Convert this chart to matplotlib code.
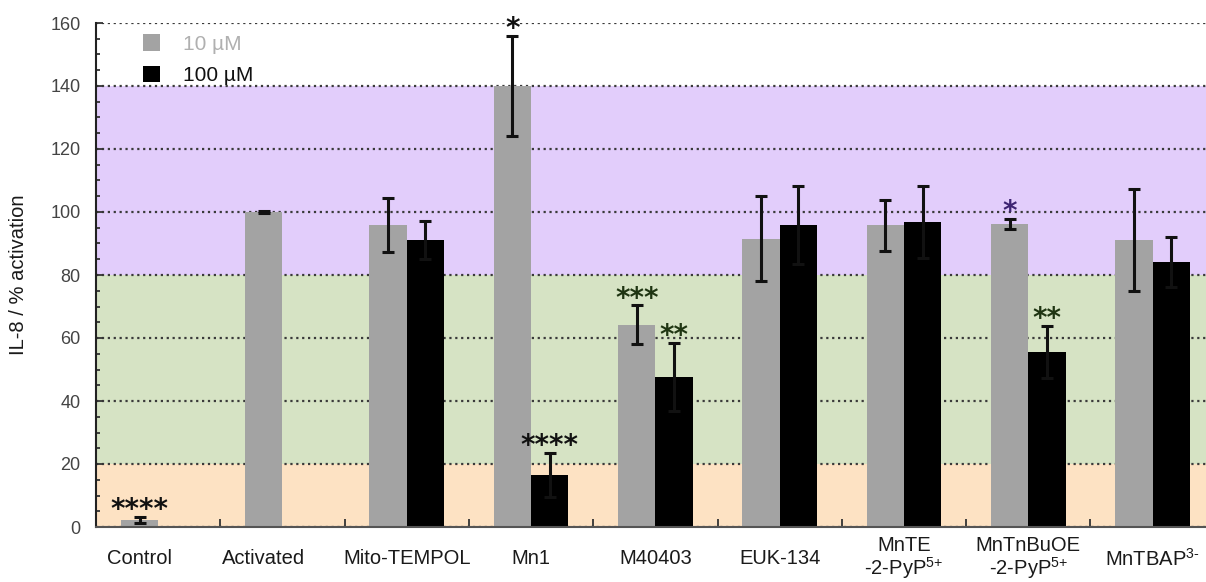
import numpy as np
import matplotlib
matplotlib.use("Agg")
import matplotlib.pyplot as plt
from matplotlib.ticker import MultipleLocator, FixedLocator

plt.rcParams['font.family'] = ['Liberation Sans', 'DejaVu Sans']
plt.rcParams['mathtext.fontset'] = 'custom'
plt.rcParams['mathtext.rm'] = 'Liberation Sans'
plt.rcParams['mathtext.it'] = 'Liberation Sans:italic'
plt.rcParams['mathtext.bf'] = 'Liberation Sans:bold'

# данные
groups = ['Control', 'Activated', 'Mito-TEMPOL', 'Mn1', 'M40403', 'EUK-134',
          'MnTE\n-2-PyP$^{\\text{5+}}$', 'MnTnBuOE\n-2-PyP$^{\\text{5+}}$', 'MnTBAP$^{\\text{3-}}$']
low_vals = [2.3, 100, 96, 140, 64.2, 91.5, 95.8, 96.3, 91]
low_err = [0.9, 0.4, 8.6, 16, 6.2, 13.5, 8.1, 1.6, 16.2]
high_vals = [np.nan, np.nan, 91.1, 16.5, 47.6, 96, 96.9, 55.6, 84.1]
high_err = [np.nan, np.nan, 6, 7, 10.8, 12.4, 11.4, 8.2, 8]

low_stars = ['****', '', '', '*', '***', '', '', '*', '']
low_star_colors = ['#111111', None, None, '#111111', '#1f3512', None, None, '#3d2472', None]
high_stars = ['', '', '', '****', '**', '', '', '**', '']
high_star_colors = [None, None, None, '#111111', '#1f3512', None, None, '#1f3512', None]

# зоны фона
bands = [(0, 20, '#fde2c3'), (20, 80, '#d6e3c4'), (80, 140, '#e2cdfb')]

fig = plt.figure(figsize=(12.06, 5.82), dpi=100)
ax = fig.add_axes([96 / 1206, 55 / 582, 1110 / 1206, 504 / 582])

for lo, hi, c in bands:
    ax.axhspan(lo, hi, color=c, zorder=0, lw=0)

x = np.arange(len(groups))
w = 0.30
x_low = x - w / 2
x_high = x + w / 2

b1 = ax.bar(x_low, low_vals, w, color='#a3a3a3', zorder=2, label='10 µM')
b2 = ax.bar(x_high, high_vals, w, color='black', zorder=2, label='100 µM')
ax.errorbar(x_low, low_vals, yerr=low_err, fmt='none', ecolor='#111111',
            elinewidth=2.2, capsize=4, capthick=2.2, zorder=3)
ax.errorbar(x_high, high_vals, yerr=high_err, fmt='none', ecolor='#111111',
            elinewidth=2.2, capsize=4, capthick=2.2, zorder=3)

# звездочки
def put_stars(xs, vals, errs, stars, colors):
    for xi, v, e, s, c in zip(xs, vals, errs, stars, colors):
        if s:
            ax.annotate(s, (xi, v + e), xytext=(0, -1), textcoords='offset points',
                        ha='center', va='baseline', fontsize=20, fontweight='bold',
                        family='DejaVu Sans', color=c, zorder=4)

put_stars(x_low, low_vals, low_err, low_stars, low_star_colors)
put_stars(x_high, high_vals, high_err, high_stars, high_star_colors)

ax.set_xlim(-0.5, 8.43)
ax.set_ylim(0, 160)
ax.yaxis.set_major_locator(MultipleLocator(20))
ax.yaxis.set_minor_locator(MultipleLocator(5))
ax.yaxis.grid(True, which='major', ls=':', color='#3a3a3a', lw=1.6, zorder=1)
ax.set_axisbelow(True)

# подписи: одиночные столбцы подписаны по центру серого столбца
label_pos = [x_low[i] if np.isnan(high_vals[i]) else x[i] for i in range(len(groups))]
ax.set_xticks(label_pos)
ax.set_xticklabels(groups, fontsize=14.5, color='#1a1a1a', va='center', linespacing=1.0)
ax.xaxis.set_minor_locator(FixedLocator(x[:-1] + 0.5))
ax.tick_params(axis='x', which='major', length=0, pad=23)
ax.tick_params(axis='x', which='minor', direction='in', length=5.5, width=1.3, color='#333333')
ax.tick_params(axis='y', which='major', direction='in', length=5, width=1.3, color='#333333',
               labelsize=13, labelcolor='#444444', pad=11)
ax.tick_params(axis='y', which='minor', direction='in', length=3, width=1.3, color='#333333')

for s in ['top', 'right']:
    ax.spines[s].set_visible(False)
ax.spines['left'].set_color('#222222')
ax.spines['left'].set_linewidth(1.5)
ax.spines['bottom'].set_color('#555555')
ax.spines['bottom'].set_linewidth(1.5)

ax.set_ylabel('IL-8 / % activation', fontsize=14.5, color='#1a1a1a')
ax.yaxis.set_label_coords((28 - 96) / 1110, 0.5)

leg = ax.legend(handles=[b1, b2], loc='upper left', bbox_to_anchor=(0.042, 0.978),
                frameon=False, fontsize=15, handlelength=0.85, handleheight=0.85,
                handletextpad=1.1, labelspacing=0.58, borderaxespad=0, borderpad=0)
leg.get_texts()[0].set_color('#b0b0b0')
leg.get_texts()[1].set_color('#111111')

fig.savefig('out.png', dpi=100)
